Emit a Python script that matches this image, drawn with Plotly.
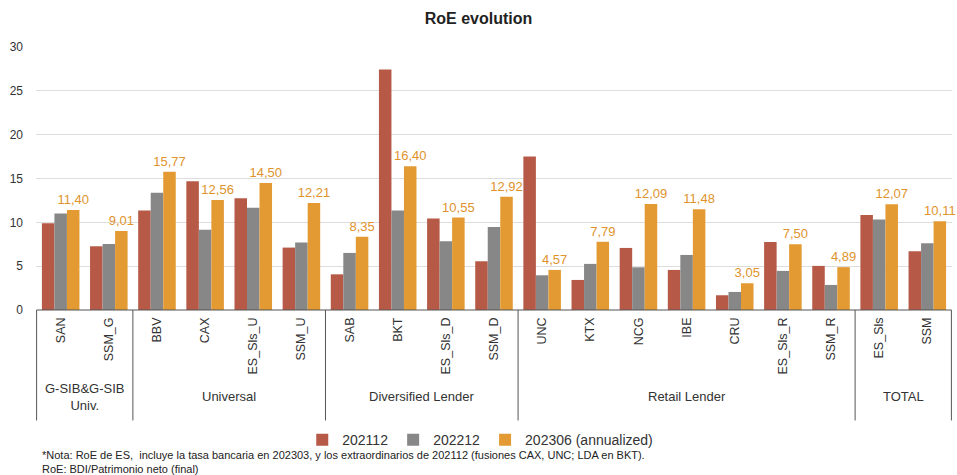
import plotly.graph_objects as go

categories = ["SAN", "SSM_G", "BBV", "CAX", "ES_Sls_U", "SSM_U", "SAB", "BKT", "ES_Sls_D", "SSM_D",
              "UNC", "KTX", "NCG", "IBE", "CRU", "ES_Sls_R", "SSM_R", "ES_Sls", "SSM"]
group_names = ["G-SIB&G-SIB<br>Univ.", "Universal", "Diversified Lender", "Retail Lender", "TOTAL"]
group_sizes = [2, 4, 4, 7, 2]

roe_202112 = [9.9, 7.27, 11.35, 14.7, 12.76, 7.12, 4.07, 27.42, 10.43, 5.56,
              17.52, 3.43, 7.08, 4.57, 1.68, 7.77, 5.03, 10.85, 6.70]
roe_202212 = [11.0, 7.54, 13.37, 9.14, 11.65, 7.69, 6.51, 11.35, 7.84, 9.48,
              3.96, 5.26, 4.87, 6.28, 2.06, 4.46, 2.86, 10.32, 7.62]
roe_202306 = [11.40, 9.01, 15.77, 12.56, 14.50, 12.21, 8.35, 16.40, 10.55, 12.92,
              4.57, 7.79, 12.09, 11.48, 3.05, 7.50, 4.89, 12.07, 10.11]

series_names = ["202112", "202212", "202306 (annualized)"]
colors = ["#B65A47", "#878787", "#E39A33"]
y_ticks = [0, 5, 10, 15, 20, 25, 30]

FONT = "Liberation Sans"

fig = go.Figure()
for name, vals, col in zip(series_names, [roe_202112, roe_202212, roe_202306], colors):
    kw = {}
    if name == series_names[2]:
        kw = dict(text=[f"{v:.2f}".replace(".", ",") for v in vals], textposition="outside",
                  constraintext="none",
                  textfont=dict(color="#E0932C", size=13, family=FONT), cliponaxis=False)
    fig.add_trace(go.Bar(x=categories, y=vals, name=name, marker=dict(color=col, line=dict(width=0)), **kw))

shapes = []
annotations = []
LINE_BOTTOM = -0.42
start = 0
bounds = [-0.5]
for gname, size in zip(group_names, group_sizes):
    end = start + size
    bounds.append(end - 0.5)
    annotations.append(dict(x=(start + end - 1) / 2, y=-0.33, xref="x", yref="paper",
                            text=gname, showarrow=False, yanchor="middle",
                            font=dict(size=13, color="#333333", family=FONT)))
    start = end
for b in bounds:
    shapes.append(dict(type="line", xref="x", yref="paper", x0=b, x1=b, y0=0, y1=LINE_BOTTOM,
                       line=dict(color="#555555", width=1)))
shapes.append(dict(type="line", xref="x", yref="paper", x0=-0.5, x1=len(categories) - 0.5, y0=0, y1=0,
                   line=dict(color="#555555", width=1.2)))

annotations.append(dict(xref="paper", yref="paper", x=0.004, y=-0.553, xanchor="left", yanchor="middle",
                        showarrow=False, align="left",
                        text="*Nota: RoE de ES,  incluye la tasa bancaria en 202303, y los extraordinarios de 202112 (fusiones CAX, UNC; LDA en BKT).",
                        font=dict(size=11, color="#222222", family=FONT)))
annotations.append(dict(xref="paper", yref="paper", x=0.004, y=-0.603, xanchor="left", yanchor="middle",
                        showarrow=False, align="left",
                        text="RoE: BDI/Patrimonio neto (final)",
                        font=dict(size=11, color="#222222", family=FONT)))

fig.update_layout(
    width=957, height=475,
    margin=dict(l=36, r=5, t=47, b=165),
    paper_bgcolor="white", plot_bgcolor="white",
    barmode="group", bargap=0.22, bargroupgap=0,
    font=dict(family=FONT, color="#333333"),
    title=dict(text="<b>RoE evolution</b>", x=0.5, xref="container", y=0.962, yanchor="middle",
               font=dict(size=16, color="#222222", family=FONT)),
    xaxis=dict(type="category", tickangle=-90, showgrid=False, showline=False, ticks="",
               tickfont=dict(size=12.5, color="#333333", family=FONT), ticklabelstandoff=4,
               automargin=False),
    yaxis=dict(range=[0, 30], tickvals=y_ticks, showgrid=True, gridcolor="#DDDDDD", gridwidth=1,
               zeroline=False, showline=False, ticks="", ticklabelstandoff=12, automargin=False,
               tickfont=dict(size=12, color="#333333", family=FONT)),
    legend=dict(orientation="h", x=0.485, xanchor="center", y=-0.495, yanchor="middle",
                font=dict(size=14, color="#333333", family=FONT), itemwidth=30,
                traceorder="normal"),
    shapes=shapes, annotations=annotations,
)

fig.write_html("out.html", config={"displayModeBar": False},
               post_script="document.body.style.margin='0';document.body.style.overflow='hidden';")
